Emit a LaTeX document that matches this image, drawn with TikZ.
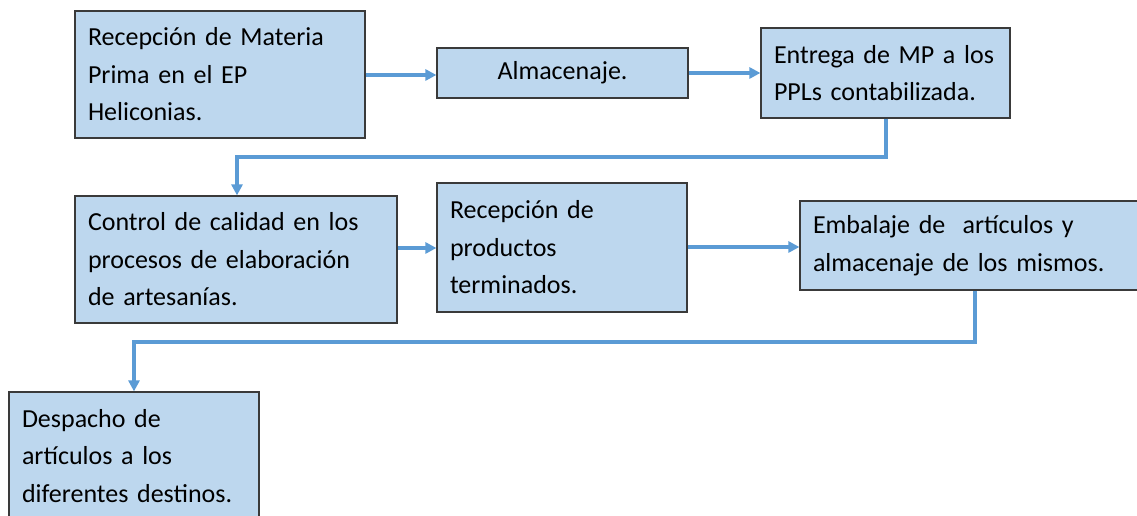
\documentclass[tikz,border=0pt]{standalone}
\usepackage{fontspec}
\setmainfont{Carlito}
\usetikzlibrary{arrows.meta}
\definecolor{boxfill}{HTML}{BDD7EE}
\definecolor{boxline}{HTML}{3A3A3A}
\definecolor{arrowblue}{HTML}{5B9BD5}
\tikzset{
  stepbox/.style={draw=boxline, line width=1.2pt, fill=boxfill, rectangle,
    inner xsep=13pt, inner ysep=0pt, align=left,
    font={\fontsize{26}{37.5}\selectfont}, text=black},
  flow/.style={draw=arrowblue, line width=3.2pt, line cap=butt,
    -{Triangle[length=11pt,width=11pt]}}
}
\begin{document}
\begin{tikzpicture}[x=1pt,y=1pt]
\useasboundingbox (0,0) rectangle (1137,516);
\clip (0,0) rectangle (1137,516);
% y_tikz = 516 - y_px
\node[stepbox, text width=264pt, minimum height=127pt] (b1) at (220,441.5)
  {\mbox{Recepción de Materia}\\Prima en el EP\\Heliconias.};
\node[stepbox, text width=225pt, minimum height=50pt, align=center] (b2) at (562.5,443)
  {Almacenaje.};
\node[stepbox, text width=223pt, minimum height=90pt] (b3) at (885.5,443)
  {\mbox{Entrega de MP a los}\\\mbox{PPLs contabilizada.}};
\node[stepbox, text width=296pt, minimum height=127pt] (b4) at (236,256.5)
  {\mbox{Control de calidad en los}\\\mbox{procesos de elaboración}\\de artesanías.};
\node[stepbox, text width=224pt, minimum height=129pt] (b5) at (562,268.5)
  {Recepción de\\productos\\terminados.};
\node[stepbox, text width=314pt, minimum height=89pt] (b6) at (970,270.5)
  {\mbox{Embalaje de \ artículos y}\\\mbox{almacenaje de los mismos.}};
\node[stepbox, text width=224pt, minimum height=128pt] (b7) at (134,60)
  {Despacho de\\artículos a los\\\mbox{diferentes destinos.}};
% connectors
\coordinate (r1) at (0,441);
\coordinate (r2) at (0,443);
\coordinate (r4) at (0,268);
\coordinate (r5) at (0,269);
\coordinate (k3) at (886,359);
\coordinate (k6) at (975,174);
\draw[flow] (b1.east |- r1) -- (b2.west |- r1);
\draw[flow] (b2.east |- r2) -- (b3.west |- r2);
\draw[flow] (k3 |- b3.south) -- (k3) -| ([xshift=1pt]b4.north);
\draw[flow] (b4.east |- r4) -- (b5.west |- r4);
\draw[flow] (b5.east |- r5) -- (b6.west |- r5);
\draw[flow] (k6 |- b6.south) -- (k6) -| (b7.north);
\end{tikzpicture}
\end{document}
